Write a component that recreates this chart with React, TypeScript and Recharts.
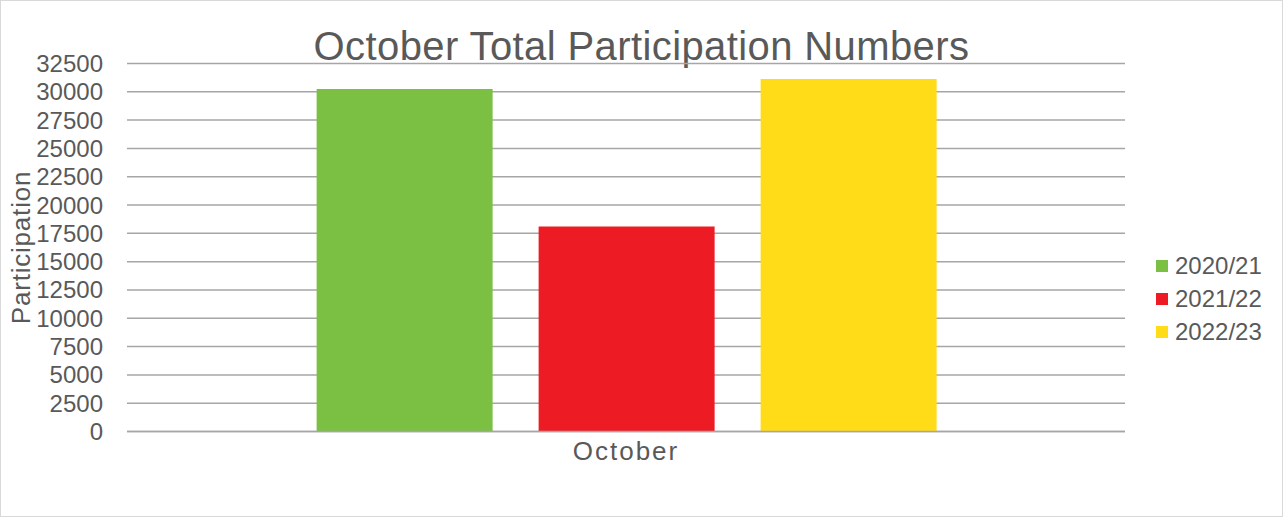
import { Bar, BarChart, CartesianGrid, Legend, XAxis, YAxis } from "recharts";

// October totals per season
const categories = ["October"];
const seasons = ["2020/21", "2021/22", "2022/23"];
const seasonColors = ["#7bc043", "#ed1c24", "#ffdc17"];
const seasonValues = [30250, 18100, 31130];
const yTicks = [0, 2500, 5000, 7500, 10000, 12500, 15000, 17500, 20000, 22500, 25000, 27500, 30000, 32500];

const data = categories.map((month) => {
  const row: Record<string, string | number> = { month };
  seasons.forEach((s, i) => {
    row[s] = seasonValues[i];
  });
  return row;
});

const ink = "#595959";
const font = "'Liberation Sans', Arial, sans-serif";

function LegendBox() {
  return (
    <ul style={{ listStyle: "none", margin: 0, padding: 0, fontFamily: font }}>
      {seasons.map((s, i) => (
        <li key={s} style={{ display: "flex", alignItems: "center", height: 33, color: ink, fontSize: 24 }}>
          <span style={{ width: 12, height: 12, background: seasonColors[i], marginRight: 7, display: "inline-block" }} />
          {s}
        </li>
      ))}
    </ul>
  );
}

export default function App() {
  return (
    <div style={{ position: "relative", width: 1283, height: 517, background: "#fff" }}>
      <style>{"body{margin:0}"}</style>
      <div
        style={{
          position: "absolute",
          inset: 0,
          border: "1px solid #d9d9d9",
          boxSizing: "border-box",
          pointerEvents: "none",
        }}
      />
      <div
        style={{
          position: "absolute",
          top: 23,
          left: 0,
          width: 1283,
          textAlign: "center",
          fontFamily: font,
          fontSize: 40,
          letterSpacing: 0.4,
          color: ink,
          lineHeight: "46px",
        }}
      >
        October Total Participation Numbers
      </div>
      <BarChart
        width={1283}
        height={517}
        data={data}
        margin={{ top: 63.5, right: 38, bottom: 55.5, left: 0 }}
        barCategoryGap="19%"
        barGap={46}
      >
        <CartesianGrid vertical={false} stroke="#a6a6a6" strokeWidth={1.5} />
        <XAxis
          dataKey="month"
          height={30}
          tickLine={false}
          axisLine={{ stroke: "#a6a6a6", strokeWidth: 1.5 }}
          tick={{ fontSize: 26, fill: ink, fontFamily: font, letterSpacing: 2 }}
          tickMargin={4}
        />
        <YAxis
          width={127}
          domain={[0, 32500]}
          ticks={yTicks}
          interval={0}
          tickLine={false}
          axisLine={false}
          tickMargin={18}
          tick={{ fontSize: 24, fill: ink, fontFamily: font }}
          label={(props: any) => {
            const vb = props.viewBox || {};
            const cy = (vb.y ?? 63.5) + (vb.height ?? 368) / 2;
            return (
              <text
                x={30}
                y={cy}
                transform={`rotate(-90, 30, ${cy})`}
                textAnchor="middle"
                fill={ink}
                fontSize={26}
                letterSpacing={0.8}
                fontFamily={font}
              >
                Participation
              </text>
            );
          }}
        />
        <Legend
          layout="vertical"
          align="right"
          verticalAlign="middle"
          wrapperStyle={{ width: 120, left: 1156, top: 249 }}
          content={() => <LegendBox />}
        />
        {seasons.map((s, i) => (
          <Bar key={s} dataKey={s} fill={seasonColors[i]} isAnimationActive={false} />
        ))}
      </BarChart>
    </div>
  );
}
